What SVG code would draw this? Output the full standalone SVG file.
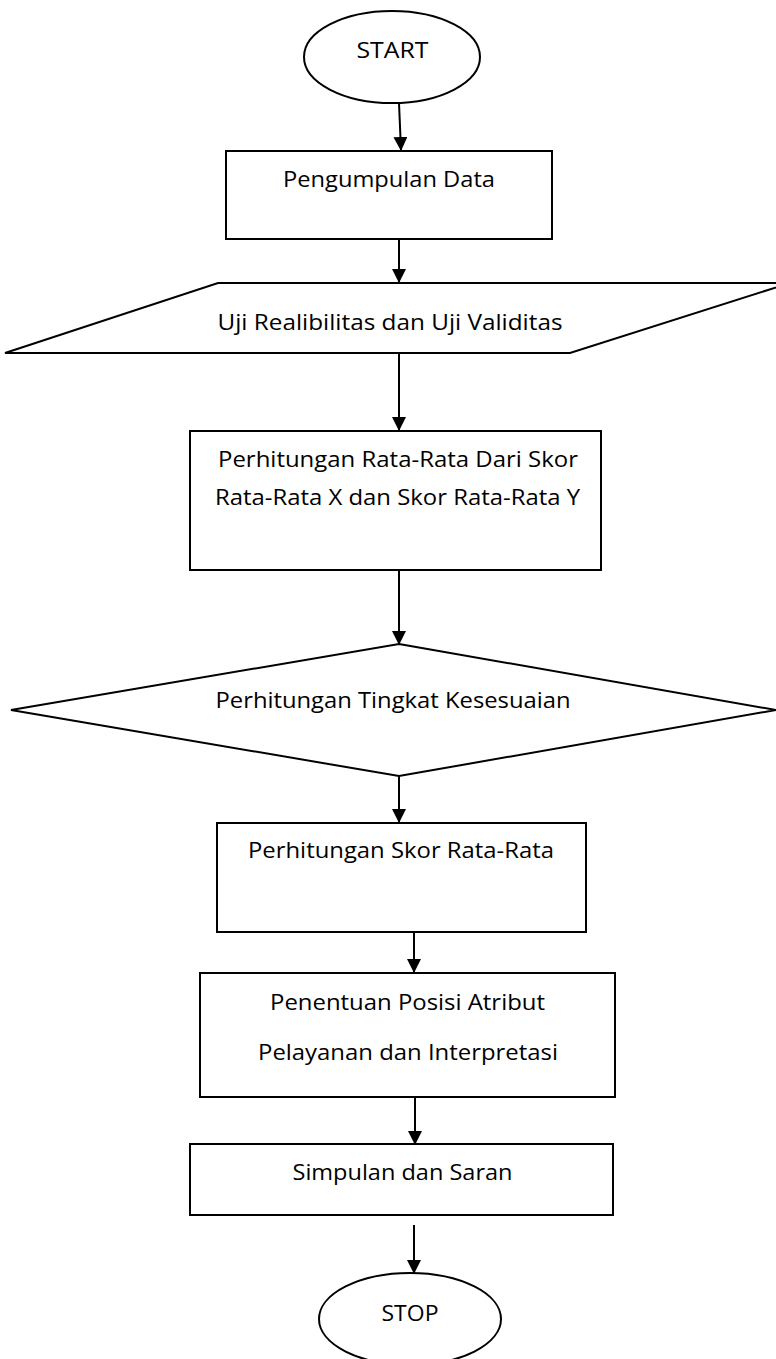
<svg xmlns="http://www.w3.org/2000/svg" width="776" height="1359" viewBox="0 0 776 1359">
  <style>
    .shape { fill: #ffffff; stroke: #000000; stroke-width: 2; }
    .flow { stroke: #000000; stroke-width: 2; fill: none; marker-end: url(#arrow); }
    .label { font-family: "Open Sans", "Liberation Sans", sans-serif; font-size: 21px; fill: #000000; text-anchor: middle; }
  </style>
  <defs>
    <marker id="arrow" markerUnits="userSpaceOnUse" markerWidth="14" markerHeight="16" refX="13" refY="7" orient="auto">
      <path d="M0,0 L14,7 L0,14 Z" fill="#000000"/>
    </marker>
  </defs>
  <rect width="776" height="1359" fill="#ffffff"/>

  <!-- connectors -->
  <g id="connectors">
    <line class="flow" x1="399" y1="103" x2="401" y2="150"/>
    <line class="flow" x1="399" y1="239" x2="399" y2="282"/>
    <line class="flow" x1="399" y1="353" x2="399" y2="430"/>
    <line class="flow" x1="399" y1="570" x2="399" y2="644"/>
    <line class="flow" x1="399" y1="776" x2="399" y2="822"/>
    <line class="flow" x1="414" y1="932" x2="414" y2="972"/>
    <line class="flow" x1="415" y1="1097" x2="415" y2="1144"/>
    <line class="flow" x1="414" y1="1225" x2="414" y2="1273"/>
  </g>

  <g id="start">
    <ellipse class="shape" cx="392" cy="57" rx="88" ry="46"/>
    <text class="label" x="392.5" y="58" textLength="72" lengthAdjust="spacingAndGlyphs">START</text>
  </g>

  <g id="pengumpulan-data">
    <rect class="shape" x="226" y="151" width="326" height="88"/>
    <text class="label" x="389" y="187" textLength="212" lengthAdjust="spacingAndGlyphs">Pengumpulan Data</text>
  </g>

  <g id="uji-realibilitas">
    <polygon class="shape" points="218,283 790,283 570,353 5,353"/>
    <text class="label" x="390" y="330" textLength="345" lengthAdjust="spacingAndGlyphs">Uji Realibilitas dan Uji Validitas</text>
  </g>

  <g id="perhitungan-rata-rata">
    <rect class="shape" x="190" y="431" width="411" height="139"/>
    <text class="label" x="398" y="467" textLength="360" lengthAdjust="spacingAndGlyphs">Perhitungan Rata-Rata Dari Skor</text>
    <text class="label" x="397.5" y="505" textLength="365" lengthAdjust="spacingAndGlyphs">Rata-Rata X dan Skor Rata-Rata Y</text>
  </g>

  <g id="tingkat-kesesuaian">
    <polygon class="shape" points="399,644 776,710 399,776 11,710"/>
    <text class="label" x="393" y="708" textLength="355" lengthAdjust="spacingAndGlyphs">Perhitungan Tingkat Kesesuaian</text>
  </g>

  <g id="skor-rata-rata">
    <rect class="shape" x="217" y="823" width="369" height="109"/>
    <text class="label" x="401" y="858" textLength="306" lengthAdjust="spacingAndGlyphs">Perhitungan Skor Rata-Rata</text>
  </g>

  <g id="posisi-atribut">
    <rect class="shape" x="200" y="973" width="415" height="124"/>
    <text class="label" x="407.5" y="1010" textLength="275" lengthAdjust="spacingAndGlyphs">Penentuan Posisi Atribut</text>
    <text class="label" x="408" y="1060" textLength="300" lengthAdjust="spacingAndGlyphs">Pelayanan dan Interpretasi</text>
  </g>

  <g id="simpulan-saran">
    <rect class="shape" x="190" y="1144" width="423" height="71"/>
    <text class="label" x="402.5" y="1180" textLength="220" lengthAdjust="spacingAndGlyphs">Simpulan dan Saran</text>
  </g>

  <g id="stop">
    <ellipse class="shape" cx="410" cy="1319" rx="91" ry="46"/>
    <text class="label" x="410" y="1321" textLength="57" lengthAdjust="spacingAndGlyphs">STOP</text>
  </g>
</svg>
